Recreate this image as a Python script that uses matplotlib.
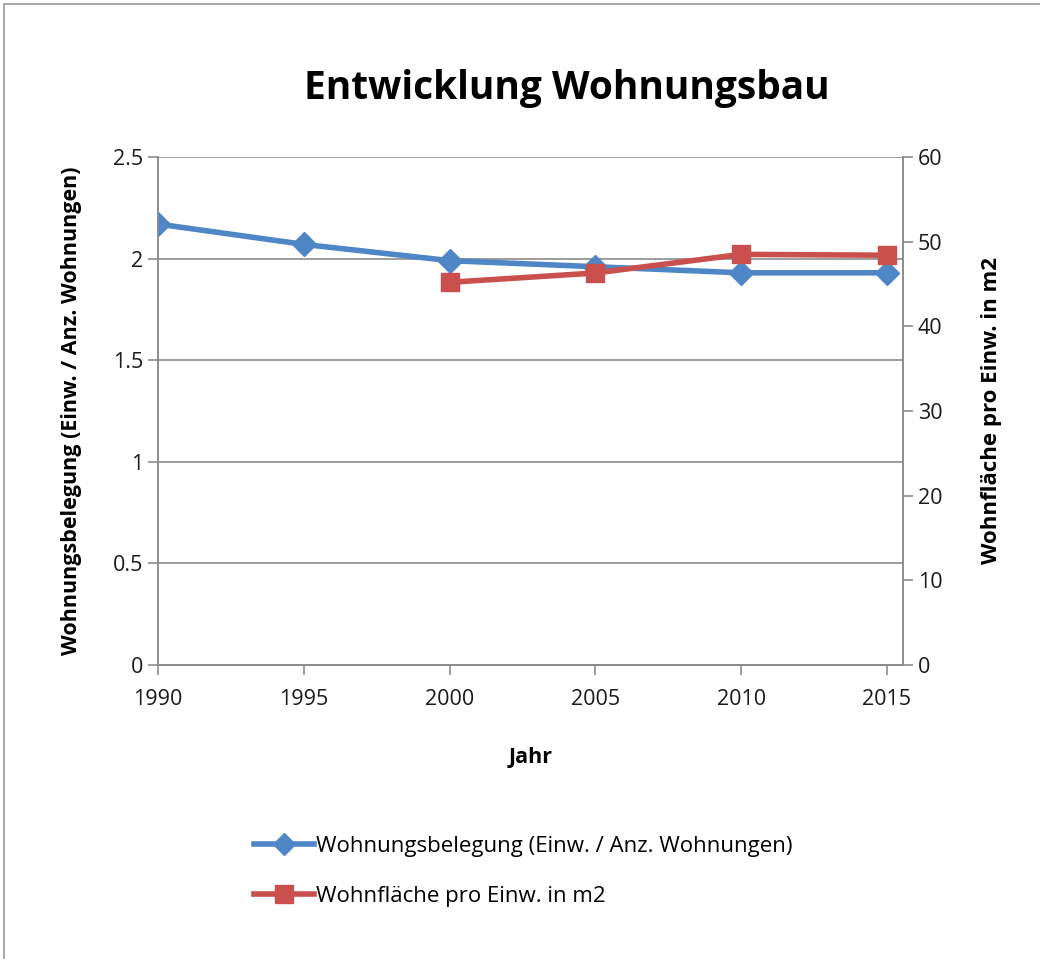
import matplotlib.pyplot as plt
from matplotlib.patches import Rectangle
from matplotlib.lines import Line2D

plt.rcParams['font.family'] = ['Open Sans', 'DejaVu Sans']

# Daten
jahre = [1990, 1995, 2000, 2005, 2010, 2015]
belegung = [2.17, 2.07, 1.99, 1.96, 1.93, 1.93]
jahre_flaeche = [2000, 2005, 2010, 2015]
flaeche = [45.2, 46.3, 48.5, 48.4]

label_belegung = "Wohnungsbelegung (Einw. / Anz. Wohnungen)"
label_flaeche = "Wohnfläche pro Einw. in m2"

blau = '#4F86C6'
rot = '#C9504D'
grau = '#8c8c8c'

fig = plt.figure(figsize=(10.4, 9.59), dpi=100)
fig.patches.append(Rectangle((4 / 1040, -0.01), 1.1, 1 - 4 / 959 + 0.01,
                             transform=fig.transFigure, fill=False,
                             edgecolor='#999999', linewidth=1.2))

ax = fig.add_axes([158 / 1040, 1 - 665 / 959, 745 / 1040, 508 / 959])
ax2 = ax.twinx()

ax.plot(jahre, belegung, color=blau, linewidth=4, marker='D',
        markersize=12, zorder=3)
ax2.plot(jahre_flaeche, flaeche, color=rot, linewidth=4, marker='s',
         markersize=13, zorder=3)

ax.set_xlim(1990, 2015.55)
ax.set_ylim(0, 2.5)
ax2.set_ylim(0, 60)
ax.set_xticks(jahre)
ax.set_yticks([0, 0.5, 1, 1.5, 2, 2.5])
ax.set_yticklabels(['0', '0.5', '1', '1.5', '2', '2.5'])
ax2.set_yticks([0, 10, 20, 30, 40, 50, 60])

ax.grid(axis='y', color=grau, linewidth=1.2)
ax.set_axisbelow(True)

for a in (ax, ax2):
    a.spines['top'].set_visible(False)
    for s in ('left', 'right', 'bottom'):
        a.spines[s].set_color(grau)
        a.spines[s].set_linewidth(1.2)
    a.tick_params(colors=grau, labelcolor='#1a1a1a', labelsize=15.5,
                  length=7, width=1.2, direction='out')
ax.tick_params(axis='x', pad=10)

fig.text(567 / 1040, 1 - 88 / 959, "Entwicklung Wohnungsbau", fontsize=28,
         fontweight='bold', ha='center', va='center')
ax.set_xlabel("Jahr", fontsize=15.5, fontweight='bold', labelpad=27)
ax.set_ylabel(label_belegung, fontsize=15.5, fontweight='bold', labelpad=22)
ax2.set_ylabel(label_flaeche, fontsize=16, fontweight='bold', labelpad=28)

handles = [
    Line2D([], [], color=blau, linewidth=4, marker='D', markersize=11),
    Line2D([], [], color=rot, linewidth=4, marker='s', markersize=13),
]
fig.legend(handles, [label_belegung, label_flaeche],
           loc='upper left', bbox_to_anchor=(234 / 1040, 1 - 816 / 959),
           frameon=False, fontsize=16, handlelength=2.7, handletextpad=0.1,
           labelspacing=1.3)

fig.savefig('out.png', dpi=100)
